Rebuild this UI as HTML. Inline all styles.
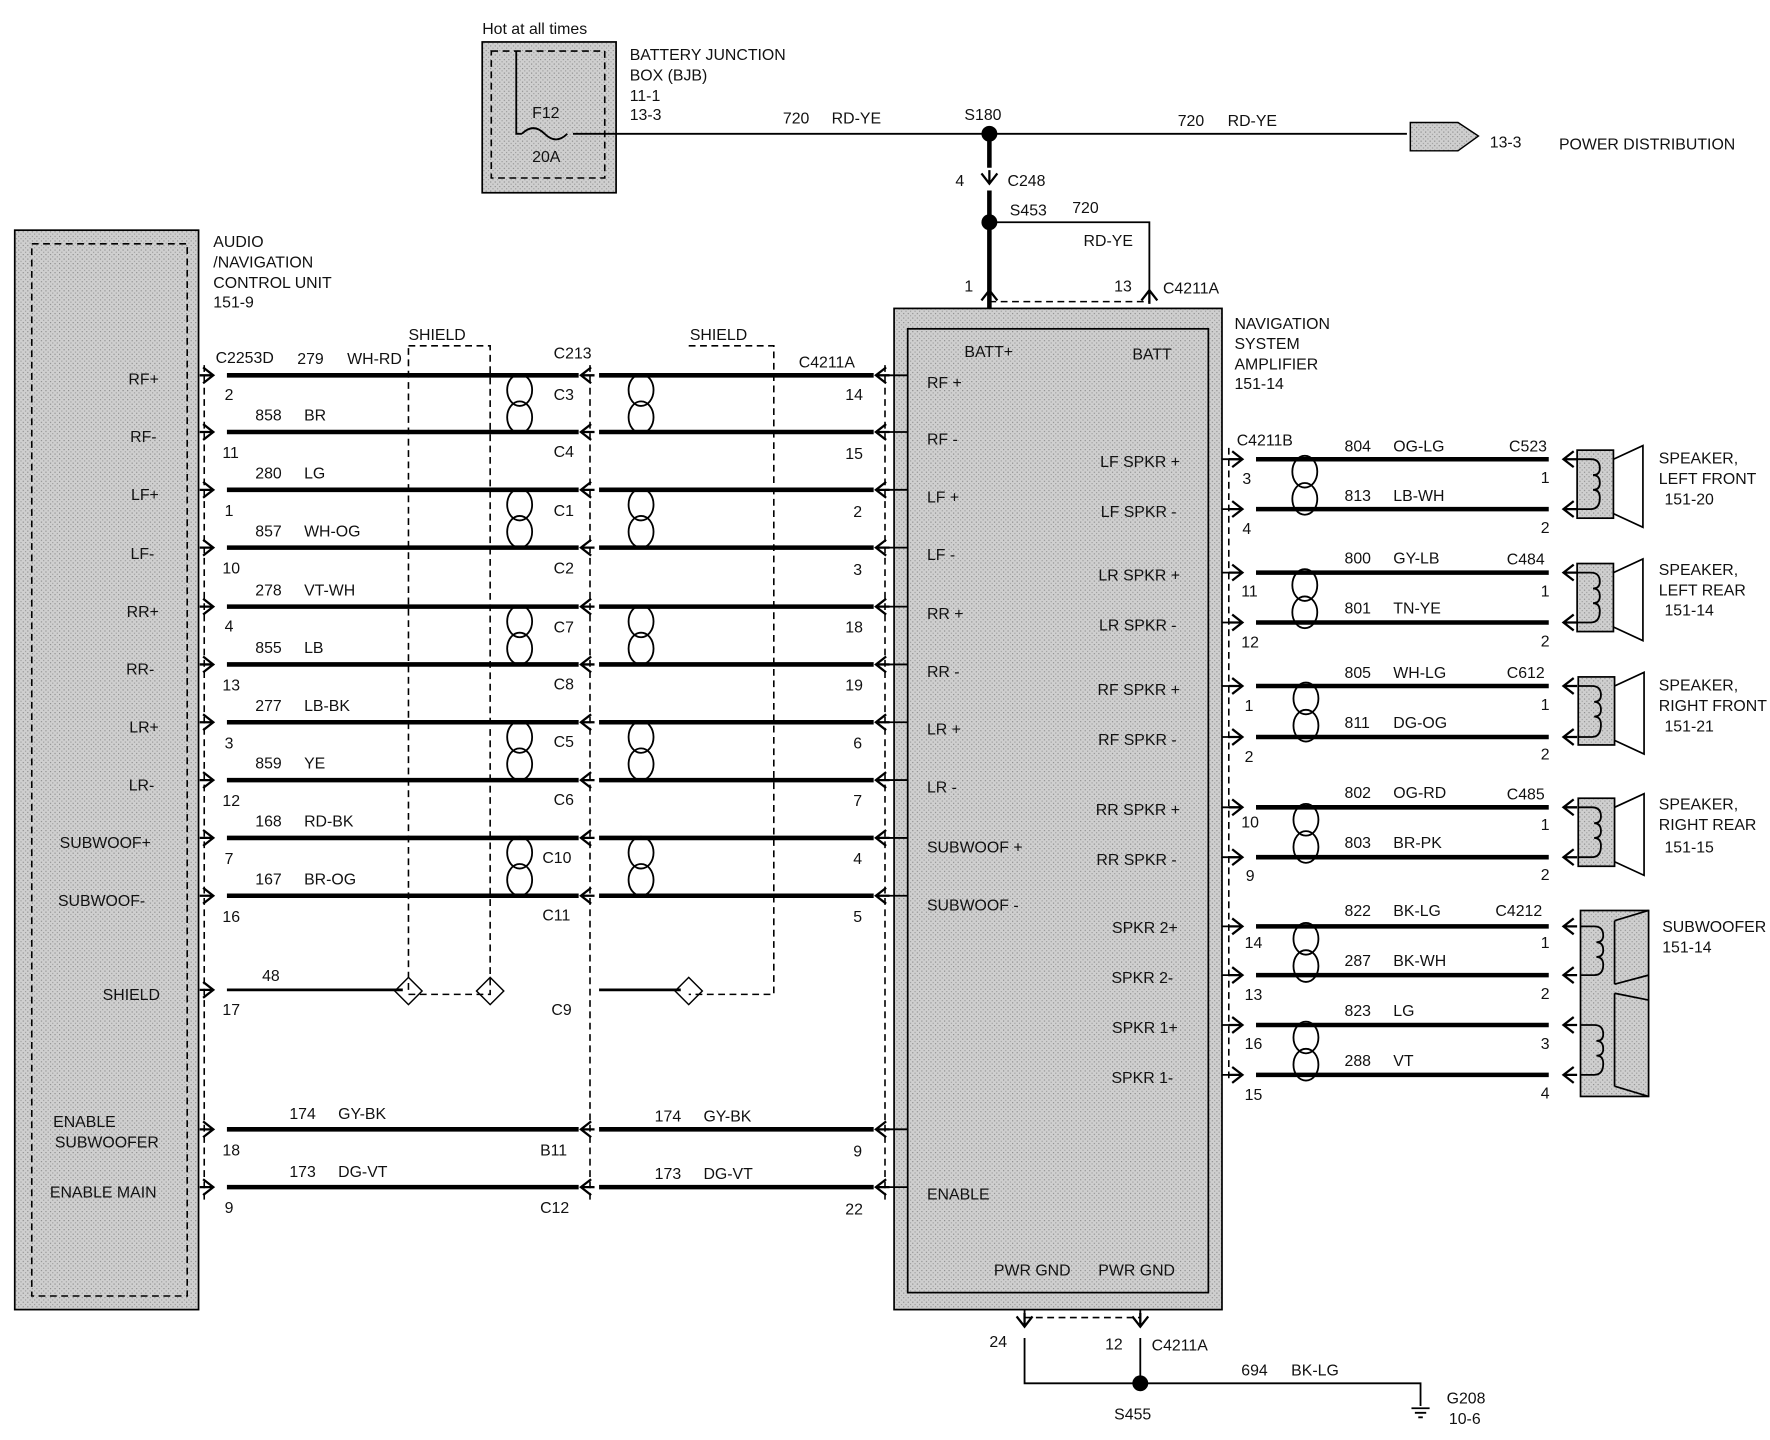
<!DOCTYPE html>
<html><head><meta charset="utf-8"><style>
html,body{margin:0;padding:0;background:#fff}
svg{display:block}
text{font-family:"Liberation Sans",sans-serif;font-size:14px;fill:#111}
.w{stroke:#000;stroke-width:4;fill:none}
.t{stroke:#000;stroke-width:1.6;fill:none}
.d{stroke:#000;stroke-width:1.4;fill:none;stroke-dasharray:6 4}
.l{fill:#2a2a2a}
</style></head><body>
<svg width="1770" height="1440" viewBox="0 0 1560 1270" preserveAspectRatio="none" xmlns="http://www.w3.org/2000/svg">
<defs>
<pattern id="g" width="4" height="4" patternUnits="userSpaceOnUse"><rect width="4" height="4" fill="#cfcfcf"/><rect width="1" height="1" fill="#888"/><rect x="2" y="2" width="1" height="1" fill="#999"/></pattern>
<g id="ar"><path d="M-9,-7 L0,0 L-9,7 M-12,0 L0,0" stroke="#000" stroke-width="2" fill="none"/></g>
<g id="al"><path d="M9,-7 L0,0 L9,7 M12,0 L0,0" stroke="#000" stroke-width="2" fill="none"/></g>
<g id="au"><path d="M-7,9 L0,0 L7,9 M0,12 L0,0" stroke="#000" stroke-width="2" fill="none"/></g>
<g id="ad"><path d="M-7,-9 L0,0 L7,-9 M0,-12 L0,0" stroke="#000" stroke-width="2" fill="none"/></g>
<g id="tw"><ellipse cx="0" cy="13" rx="11" ry="14" class="t"/><ellipse cx="0" cy="37" rx="11" ry="14" class="t"/></g>
</defs>

<!-- BJB -->
<text x="425" y="30">Hot at all times</text>
<rect x="425" y="37" width="118" height="133" fill="url(#g)" stroke="#000" stroke-width="1.5"/>
<rect x="433" y="45" width="100" height="112" class="d"/>
<path d="M455,45 V118 H460 M505,118 H543" class="t"/>
<path d="M460,118 q10,-10 20,0 q10,10 20,0" class="t"/>
<text x="469" y="104">F12</text><text x="469" y="143">20A</text>
<text x="555" y="53">BATTERY  JUNCTION</text>
<text x="555" y="71">BOX (BJB)</text>
<text x="555" y="89">11-1</text>
<text x="555" y="106">13-3</text>
<path d="M543,118 H1240" class="t" stroke-width="3"/>
<text x="690" y="109">720</text><text x="733" y="109">RD-YE</text>
<text x="1038" y="111">720</text><text x="1082" y="111">RD-YE</text>
<text x="850" y="106">S180</text>
<circle cx="872" cy="118" r="7"/>
<path d="M1243,108 H1285 L1303,120 L1285,133 H1243 Z" fill="url(#g)" stroke="#000" stroke-width="1.3"/>
<text x="1313" y="130">13-3</text><text x="1374" y="132">POWER DISTRIBUTION</text>
<path d="M872,118 V148 M872,168 V272" class="w"/>
<use href="#ad" x="872" y="162"/>
<text x="842" y="164">4</text><text x="888" y="164">C248</text>
<circle cx="872" cy="196" r="7"/>
<text x="890" y="190">S453</text><text x="945" y="188">720</text><text x="955" y="217">RD-YE</text>
<path d="M872,196 H1013 V265" class="t" stroke-width="3"/>
<use href="#au" x="872" y="256"/><use href="#au" x="1013" y="256"/>
<path d="M872,266 H1013" class="d"/>
<text x="850" y="257">1</text><text x="982" y="257">13</text><text x="1025" y="259">C4211A</text>

<!-- left unit -->
<rect x="13" y="203" width="162" height="952" fill="url(#g)" stroke="#000" stroke-width="1.5"/>
<rect x="28" y="215" width="137" height="928" class="d"/>
<text x="188" y="218">AUDIO</text><text x="188" y="236">/NAVIGATION</text><text x="188" y="254">CONTROL UNIT</text><text x="188" y="271">151-9</text>
<g text-anchor="end" class="l">
<text x="140" y="339">RF+</text><text x="138" y="390">RF-</text><text x="140" y="441">LF+</text><text x="136" y="493">LF-</text>
<text x="140" y="544">RR+</text><text x="136" y="595">RR-</text><text x="140" y="646">LR+</text><text x="136" y="697">LR-</text>
<text x="133" y="748">SUBWOOF+</text><text x="128" y="799">SUBWOOF-</text><text x="141" y="882">SHIELD</text>
<text x="102" y="994">ENABLE</text><text x="140" y="1012">SUBWOOFER</text><text x="138" y="1056">ENABLE MAIN</text>
</g>
<path d="M180,322 V1060 M520,322 V1060 M780,322 V1060" class="d"/>
<path d="M360,305 H432 V877 H360 Z M607,305 H682 V877 H607" class="d"/>
<text x="360" y="300">SHIELD</text><text x="608" y="300">SHIELD</text>
<text x="190" y="320">C2253D</text><text x="488" y="316">C213</text><text x="704" y="324">C4211A</text>

<g class="w">
<path d="M200,331H510M528,331H770M200,381H510M528,381H770M200,432H510M528,432H770M200,483H510M528,483H770M200,535H510M528,535H770M200,586H510M528,586H770M200,637H510M528,637H770M200,688H510M528,688H770M200,739H510M528,739H770M200,790H510M528,790H770M200,996H510M528,996H770M200,1047H510M528,1047H770"/>
<path d="M200,873H355M528,873H600" stroke-width="2.5"/>
</g>
<g>
<use href="#ar" x="188" y="331"/><use href="#ar" x="188" y="381"/><use href="#ar" x="188" y="432"/><use href="#ar" x="188" y="483"/><use href="#ar" x="188" y="535"/><use href="#ar" x="188" y="586"/><use href="#ar" x="188" y="637"/><use href="#ar" x="188" y="688"/><use href="#ar" x="188" y="739"/><use href="#ar" x="188" y="790"/><use href="#ar" x="188" y="873"/><use href="#ar" x="188" y="996"/><use href="#ar" x="188" y="1047"/>
<use href="#al" x="512" y="331"/><use href="#al" x="512" y="381"/><use href="#al" x="512" y="432"/><use href="#al" x="512" y="483"/><use href="#al" x="512" y="535"/><use href="#al" x="512" y="586"/><use href="#al" x="512" y="637"/><use href="#al" x="512" y="688"/><use href="#al" x="512" y="739"/><use href="#al" x="512" y="790"/><use href="#al" x="512" y="996"/><use href="#al" x="512" y="1047"/>
<use href="#al" x="772" y="331"/><use href="#al" x="772" y="381"/><use href="#al" x="772" y="432"/><use href="#al" x="772" y="483"/><use href="#al" x="772" y="535"/><use href="#al" x="772" y="586"/><use href="#al" x="772" y="637"/><use href="#al" x="772" y="688"/><use href="#al" x="772" y="739"/><use href="#al" x="772" y="790"/><use href="#al" x="772" y="996"/><use href="#al" x="772" y="1047"/>
</g>
<g>
<use href="#tw" x="458" y="331"/><use href="#tw" x="458" y="432"/><use href="#tw" x="458" y="535"/><use href="#tw" x="458" y="637"/><use href="#tw" x="458" y="739"/>
<use href="#tw" x="565" y="331"/><use href="#tw" x="565" y="432"/><use href="#tw" x="565" y="535"/><use href="#tw" x="565" y="637"/><use href="#tw" x="565" y="739"/>
</g>
<g fill="none" stroke="#000" stroke-width="1.3">
<path d="M360,862 L372,874 L360,886 L348,874 Z M432,862 L444,874 L432,886 L420,874 Z M607,862 L619,874 L607,886 L595,874 Z"/>
</g>
<!-- left labels -->
<text x="198" y="353">2</text><text x="196" y="404">11</text><text x="198" y="455">1</text><text x="196" y="506">10</text><text x="198" y="557">4</text><text x="196" y="609">13</text><text x="198" y="660">3</text><text x="196" y="711">12</text><text x="198" y="762">7</text><text x="196" y="813">16</text><text x="196" y="895">17</text><text x="196" y="1019">18</text><text x="198" y="1070">9</text>
<text x="262" y="321">279</text><text x="306" y="321">WH-RD</text>
<text x="225" y="371">858</text><text x="268" y="371">BR</text>
<text x="225" y="422">280</text><text x="268" y="422">LG</text>
<text x="225" y="473">857</text><text x="268" y="473">WH-OG</text>
<text x="225" y="525">278</text><text x="268" y="525">VT-WH</text>
<text x="225" y="576">855</text><text x="268" y="576">LB</text>
<text x="225" y="627">277</text><text x="268" y="627">LB-BK</text>
<text x="225" y="678">859</text><text x="268" y="678">YE</text>
<text x="225" y="729">168</text><text x="268" y="729">RD-BK</text>
<text x="225" y="780">167</text><text x="268" y="780">BR-OG</text>
<text x="231" y="865">48</text>
<text x="255" y="987">174</text><text x="298" y="987">GY-BK</text>
<text x="255" y="1038">173</text><text x="298" y="1038">DG-VT</text>
<text x="577" y="989">174</text><text x="620" y="989">GY-BK</text>
<text x="577" y="1040">173</text><text x="620" y="1040">DG-VT</text>
<text x="488" y="353">C3</text><text x="488" y="403">C4</text><text x="488" y="455">C1</text><text x="488" y="506">C2</text><text x="488" y="558">C7</text><text x="488" y="608">C8</text><text x="488" y="659">C5</text><text x="488" y="710">C6</text><text x="478" y="761">C10</text><text x="478" y="812">C11</text><text x="486" y="895">C9</text><text x="476" y="1019">B11</text><text x="476" y="1070">C12</text>
<text x="745" y="353">14</text><text x="745" y="405">15</text><text x="752" y="456">2</text><text x="752" y="507">3</text><text x="745" y="558">18</text><text x="745" y="609">19</text><text x="752" y="660">6</text><text x="752" y="711">7</text><text x="752" y="762">4</text><text x="752" y="813">5</text><text x="752" y="1020">9</text><text x="745" y="1071">22</text>

<!-- amplifier -->
<rect x="788" y="272" width="289" height="883" fill="url(#g)" stroke="#000" stroke-width="1.5"/>
<rect x="800" y="290" width="265" height="850" fill="none" stroke="#000" stroke-width="1.5"/>
<path d="M780,331H800M780,381H800M780,432H800M780,483H800M780,535H800M780,586H800M780,637H800M780,688H800M780,739H800M780,790H800M780,996H800M780,1047H800" class="t"/>
<g class="l">
<text x="850" y="315">BATT+</text><text x="998" y="317">BATT</text>
<text x="817" y="342">RF +</text><text x="817" y="392">RF -</text><text x="817" y="443">LF +</text><text x="817" y="494">LF -</text><text x="817" y="546">RR +</text><text x="817" y="597">RR -</text><text x="817" y="648">LR +</text><text x="817" y="699">LR -</text><text x="817" y="752">SUBWOOF +</text><text x="817" y="803">SUBWOOF -</text><text x="817" y="1058">ENABLE</text>
<text x="876" y="1125">PWR GND</text><text x="968" y="1125">PWR GND</text>
</g>
<g text-anchor="end" class="l">
<text x="1040" y="412">LF SPKR +</text><text x="1037" y="456">LF SPKR -</text><text x="1040" y="512">LR SPKR +</text><text x="1037" y="556">LR SPKR -</text><text x="1040" y="613">RF SPKR +</text><text x="1037" y="657">RF SPKR -</text><text x="1040" y="719">RR SPKR +</text><text x="1037" y="763">RR SPKR -</text><text x="1038" y="823">SPKR 2+</text><text x="1034" y="867">SPKR 2-</text><text x="1038" y="911">SPKR 1+</text><text x="1034" y="955">SPKR 1-</text>
</g>
<text x="1088" y="290">NAVIGATION</text><text x="1088" y="308">SYSTEM</text><text x="1088" y="326">AMPLIFIER</text><text x="1088" y="343">151-14</text>
<path d="M1083,395 V955" class="d"/>
<text x="1090" y="393">C4211B</text>
<g class="w"><path d="M1107,405H1365M1107,449H1365M1107,505H1365M1107,549H1365M1107,605H1365M1107,650H1365M1107,712H1365M1107,756H1365M1107,817H1365M1107,860H1365M1107,904H1365M1107,948H1365"/></g>
<path d="M1077,405H1095M1077,449H1095M1077,505H1095M1077,549H1095M1077,605H1095M1077,650H1095M1077,712H1095M1077,756H1095M1077,817H1095M1077,860H1095M1077,904H1095M1077,948H1095" class="t"/>
<g>
<use href="#ar" x="1095" y="405"/><use href="#ar" x="1095" y="449"/><use href="#ar" x="1095" y="505"/><use href="#ar" x="1095" y="549"/><use href="#ar" x="1095" y="605"/><use href="#ar" x="1095" y="650"/><use href="#ar" x="1095" y="712"/><use href="#ar" x="1095" y="756"/><use href="#ar" x="1095" y="817"/><use href="#ar" x="1095" y="860"/><use href="#ar" x="1095" y="904"/><use href="#ar" x="1095" y="948"/>
<use href="#al" x="1378" y="405"/><use href="#al" x="1378" y="449"/><use href="#al" x="1378" y="505"/><use href="#al" x="1378" y="549"/><use href="#al" x="1378" y="605"/><use href="#al" x="1378" y="650"/><use href="#al" x="1378" y="712"/><use href="#al" x="1378" y="756"/><use href="#al" x="1378" y="817"/><use href="#al" x="1378" y="860"/><use href="#al" x="1378" y="904"/><use href="#al" x="1378" y="948"/>
</g>
<g>
<use href="#tw" x="1150" y="403" transform="translate(0,0) "/><use href="#tw" x="1150" y="503"/><use href="#tw" x="1151" y="603"/><use href="#tw" x="1151" y="710"/><use href="#tw" x="1151" y="815"/><use href="#tw" x="1151" y="902"/>
</g>
<text x="1095" y="427">3</text><text x="1095" y="471">4</text><text x="1094" y="526">11</text><text x="1094" y="571">12</text><text x="1097" y="627">1</text><text x="1097" y="672">2</text><text x="1094" y="730">10</text><text x="1098" y="777">9</text><text x="1097" y="836">14</text><text x="1097" y="882">13</text><text x="1097" y="925">16</text><text x="1097" y="970">15</text>
<text x="1358" y="426">1</text><text x="1358" y="470">2</text><text x="1358" y="526">1</text><text x="1358" y="570">2</text><text x="1358" y="626">1</text><text x="1358" y="670">2</text><text x="1358" y="732">1</text><text x="1358" y="776">2</text><text x="1358" y="836">1</text><text x="1358" y="881">2</text><text x="1358" y="925">3</text><text x="1358" y="969">4</text>
<text x="1185" y="398">804</text><text x="1228" y="398">OG-LG</text><text x="1330" y="398">C523</text>
<text x="1185" y="442">813</text><text x="1228" y="442">LB-WH</text>
<text x="1185" y="497">800</text><text x="1228" y="497">GY-LB</text><text x="1328" y="498">C484</text>
<text x="1185" y="541">801</text><text x="1228" y="541">TN-YE</text>
<text x="1185" y="598">805</text><text x="1228" y="598">WH-LG</text><text x="1328" y="598">C612</text>
<text x="1185" y="642">811</text><text x="1228" y="642">DG-OG</text>
<text x="1185" y="704">802</text><text x="1228" y="704">OG-RD</text><text x="1328" y="705">C485</text>
<text x="1185" y="748">803</text><text x="1228" y="748">BR-PK</text>
<text x="1185" y="808">822</text><text x="1228" y="808">BK-LG</text><text x="1318" y="808">C4212</text>
<text x="1185" y="852">287</text><text x="1228" y="852">BK-WH</text>
<text x="1185" y="896">823</text><text x="1228" y="896">LG</text>
<text x="1185" y="940">288</text><text x="1228" y="940">VT</text>

<!-- speakers -->
<g stroke="#000" stroke-width="1.5">
<rect x="1390" y="397" width="32" height="60" fill="url(#g)"/><path d="M1422,405 L1448,393 V465 L1422,453" fill="none"/>
<rect x="1390" y="497" width="32" height="60" fill="url(#g)"/><path d="M1422,505 L1448,493 V565 L1422,553" fill="none"/>
<rect x="1391" y="597" width="32" height="60" fill="url(#g)"/><path d="M1423,605 L1449,593 V665 L1423,653" fill="none"/>
<rect x="1391" y="704" width="32" height="60" fill="url(#g)"/><path d="M1423,712 L1449,700 V772 L1423,760" fill="none"/>
<rect x="1393" y="803" width="60" height="164" fill="url(#g)"/>
<path d="M1423,812 L1453,803 M1423,868 L1453,860 M1423,876 L1453,882 M1423,958 L1453,967 M1423,812 V868 M1423,876 V958" fill="none"/>
</g>
<g class="t">
<path d="M1390,405 H1402 q8,0 8,8 q0,6 -6,6 q6,0 6,7 q0,6 -6,6 q6,0 6,7 q0,10 -8,10 H1390"/>
<path d="M1390,505 H1402 q8,0 8,8 q0,6 -6,6 q6,0 6,7 q0,6 -6,6 q6,0 6,7 q0,10 -8,10 H1390"/>
<path d="M1391,605 H1403 q8,0 8,8 q0,6 -6,6 q6,0 6,7 q0,6 -6,6 q6,0 6,7 q0,11 -8,11 H1391"/>
<path d="M1391,712 H1403 q8,0 8,8 q0,6 -6,6 q6,0 6,7 q0,6 -6,6 q6,0 6,7 q0,10 -8,10 H1391"/>
<path d="M1393,817 H1405 q8,0 8,8 q0,6 -6,6 q6,0 6,7 q0,6 -6,6 q6,0 6,7 q0,9 -8,9 H1393"/>
<path d="M1393,904 H1405 q8,0 8,8 q0,6 -6,6 q6,0 6,7 q0,6 -6,6 q6,0 6,7 q0,10 -8,10 H1393"/>
</g>
<text x="1462" y="409">SPEAKER,</text><text x="1462" y="427">LEFT FRONT</text><text x="1467" y="445">151-20</text>
<text x="1462" y="507">SPEAKER,</text><text x="1462" y="525">LEFT REAR</text><text x="1467" y="543">151-14</text>
<text x="1462" y="609">SPEAKER,</text><text x="1462" y="627">RIGHT FRONT</text><text x="1467" y="645">151-21</text>
<text x="1462" y="714">SPEAKER,</text><text x="1462" y="732">RIGHT REAR</text><text x="1467" y="752">151-15</text>
<text x="1465" y="822">SUBWOOFER</text><text x="1465" y="840">151-14</text>

<!-- ground -->
<path d="M903,1155 V1165 M1005,1155 V1165" class="t"/>
<use href="#ad" x="903" y="1170"/><use href="#ad" x="1005" y="1170"/>
<path d="M903,1162 H1005" class="d"/>
<path d="M903,1180 V1220 H1252 V1240 M1005,1180 V1220" class="t" stroke-width="3"/>
<path d="M1244,1242 H1260 M1247,1246 H1257 M1250,1250 H1254" class="t"/>
<circle cx="1005" cy="1220" r="7"/>
<text x="872" y="1188">24</text><text x="974" y="1190">12</text><text x="1015" y="1191">C4211A</text>
<text x="1094" y="1213">694</text><text x="1138" y="1213">BK-LG</text>
<text x="982" y="1252">S455</text><text x="1275" y="1238">G208</text><text x="1277" y="1256">10-6</text>
</svg>
</body></html>
